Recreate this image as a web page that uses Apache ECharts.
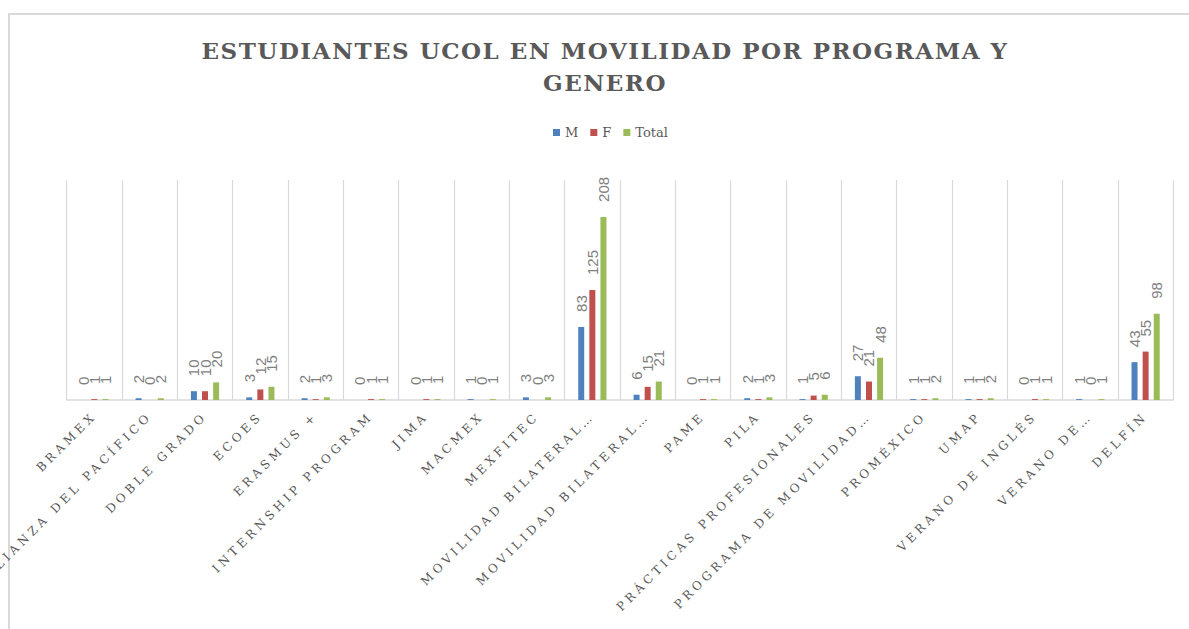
<!DOCTYPE html>
<html>
<head>
<meta charset="utf-8">
<script src="https://cdn.jsdelivr.net/npm/echarts@6/dist/echarts.min.js"></script>
<style>
html,body{margin:0;padding:0;background:#fff;}
#chart{width:1189px;height:629px;}
</style>
</head>
<body>
<div id="chart"></div>
<script>
const titleLines = ['ESTUDIANTES UCOL EN MOVILIDAD POR PROGRAMA Y', 'GENERO'];
const seriesNames = ['M', 'F', 'Total'];
const categories = [
  'BRAMEX', 'ALIANZA DEL PACÍFICO', 'DOBLE GRADO', 'ECOES', 'ERASMUS +',
  'INTERNSHIP PROGRAM', 'JIMA', 'MACMEX', 'MEXFITEC', 'MOVILIDAD BILATERAL…',
  'MOVILIDAD BILATERAL…', 'PAME', 'PILA', 'PRÁCTICAS PROFESIONALES', 'PROGRAMA DE MOVILIDAD…',
  'PROMÉXICO', 'UMAP', 'VERANO DE INGLÉS', 'VERANO DE…', 'DELFÍN'
];
const valuesM     = [0, 2, 10, 3, 2, 0, 0, 1, 3, 83, 6, 0, 2, 1, 27, 1, 1, 0, 1, 43];
const valuesF     = [1, 0, 10, 12, 1, 1, 1, 0, 0, 125, 15, 1, 1, 5, 21, 1, 1, 1, 0, 55];
const valuesTotal = [1, 2, 20, 15, 3, 1, 1, 1, 3, 208, 21, 1, 3, 6, 48, 2, 2, 1, 1, 98];
const colors = ['#4F81BD', '#C0504D', '#9BBB59'];

const chart = echarts.init(document.getElementById('chart'), null, {renderer: 'svg'});

const labelStyle = {
  show: true, position: 'top', rotate: 90, align: 'left', verticalAlign: 'middle',
  distance: 15, color: '#7f7f7f', fontSize: 15, fontFamily: 'Liberation Sans'
};

function makeSeries(name, data, color) {
  return {
    name: name, type: 'bar', data: data, barWidth: 6, barGap: '85%',
    itemStyle: {color: color}, label: labelStyle, animation: false
  };
}

const option = {
  animation: false,
  color: colors,
  title: {
    text: titleLines.join('\n'), left: 605, top: 34, padding: 0, textAlign: 'center',
    textStyle: {fontFamily: 'DejaVu Serif', fontWeight: 'bold', fontSize: 23, color: '#595959', lineHeight: 32}
  },
  legend: {
    data: seriesNames, left: 553, top: 126, padding: 0, icon: 'rect',
    itemWidth: 7, itemHeight: 7, itemGap: 12,
    textStyle: {fontFamily: 'DejaVu Serif', fontSize: 13, color: '#595959'}
  },
  graphic: [{
    type: 'rect', shape: {x: 9, y: 14, width: 1400, height: 800}, silent: true,
    style: {fill: 'none', stroke: '#d9d9d9', lineWidth: 2}
  }],
  grid: {left: 66.7, right: 15.7, top: 180, bottom: 229, containLabel: false},
  xAxis: {
    type: 'category', data: categories, boundaryGap: true,
    axisLine: {show: true, lineStyle: {color: '#d9d9d9', width: 1.5}},
    axisTick: {show: false},
    splitLine: {show: true, interval: 0, lineStyle: {color: '#d9d9d9', width: 1.2}},
    axisLabel: {interval: 0, rotate: 45, margin: 14, fontFamily: 'DejaVu Serif', fontSize: 12, color: '#595959'}
  },
  yAxis: {type: 'value', min: 0, max: 250, show: false, splitLine: {show: false}},
  series: [
    makeSeries(seriesNames[0], valuesM, colors[0]),
    makeSeries(seriesNames[1], valuesF, colors[1]),
    makeSeries(seriesNames[2], valuesTotal, colors[2])
  ]
};

const spacing = {};
categories.forEach(c => { spacing[c] = '3.8px'; });
titleLines.forEach(t => { spacing[t] = '1.5px'; });
function applySpacing() {
  document.querySelectorAll('#chart svg text').forEach(t => {
    const s = spacing[t.textContent];
    if (s) t.style.letterSpacing = s;
  });
}
chart.on('finished', applySpacing);
chart.setOption(option);
applySpacing();
</script>
</body>
</html>
